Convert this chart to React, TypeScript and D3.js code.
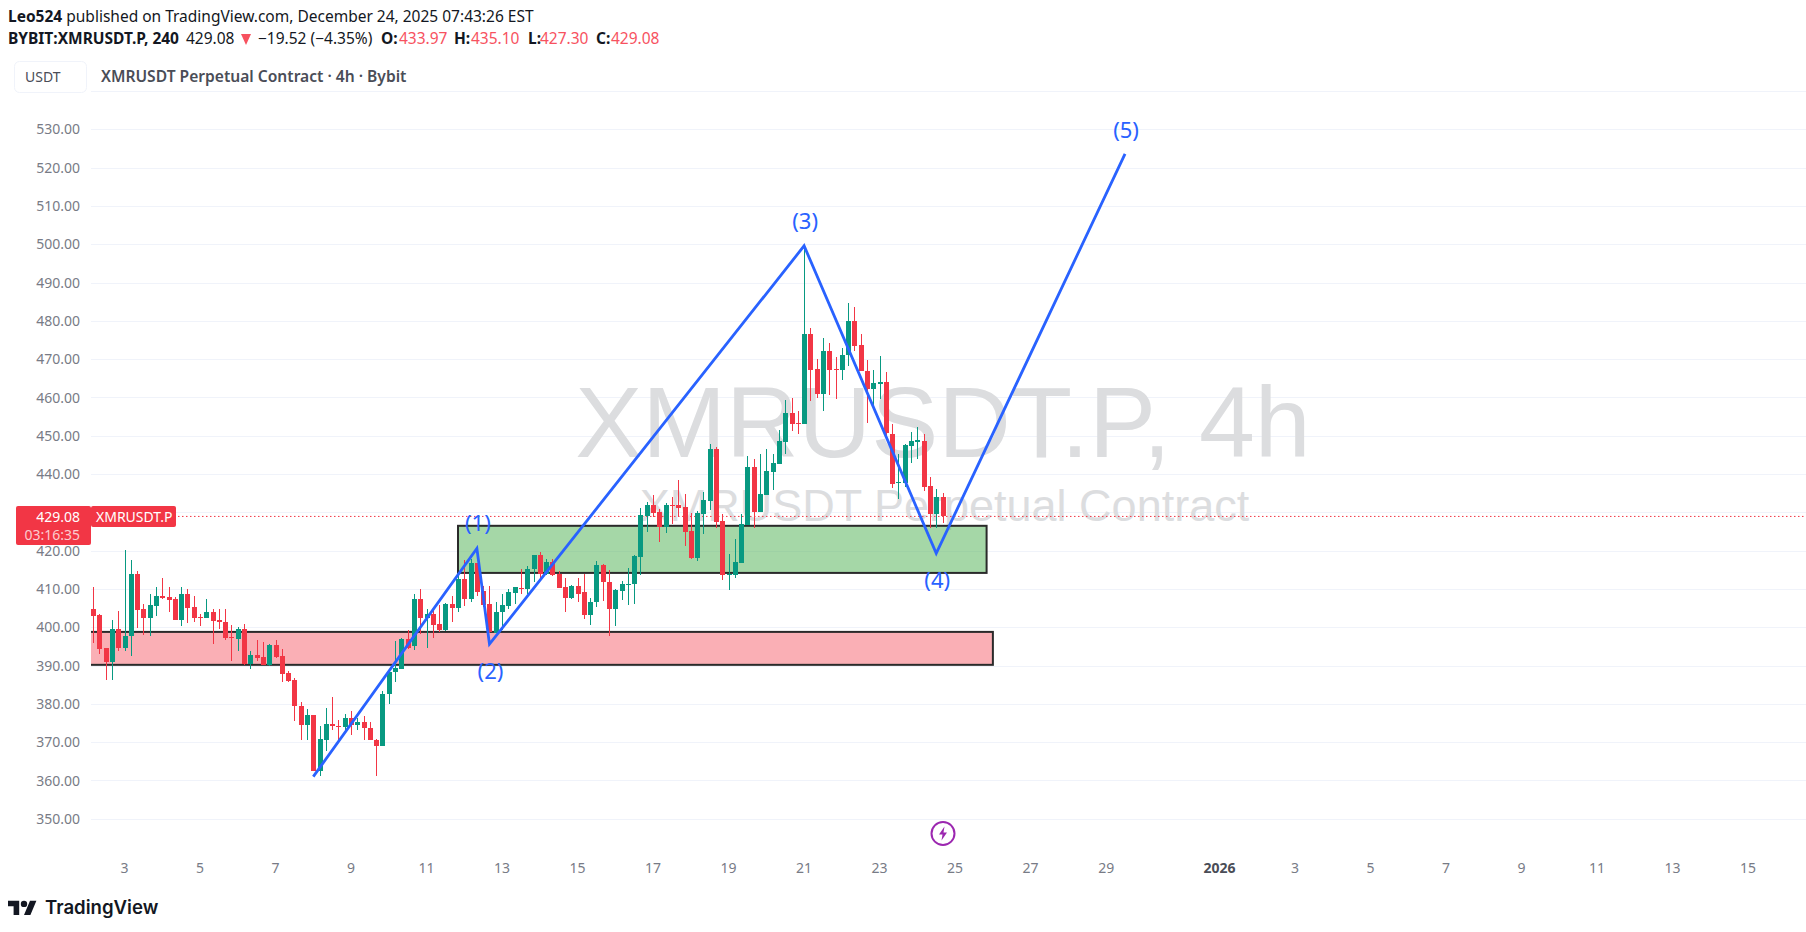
import React from "react";
import * as d3 from "d3";

const WIDTH = 1806;
const HEIGHT = 932;

const opens = [404.9,403.1,394.5,391,399.5,394.7,397.6,414,404.7,402.5,405.6,408.3,407.8,407.3,402,408.8,405.2,402.8,402.5,403.9,401.8,401.5,397.5,397,399.5,390.4,392.7,392.2,390.2,395.3,392.4,388,386.2,379.4,374.4,377.1,362.6,370.7,374.8,374.3,373.9,376.3,374.4,375.3,373.8,370.6,369,382.5,388.2,389.2,396.9,395,407.5,402.5,403.4,400.8,399.3,406.2,405.1,412.5,407.4,416.9,409.4,406,398.6,404,405.5,409,410.3,410,415.2,418.8,413.8,417.1,413.8,410.4,407.6,410.7,409.2,403.2,406.5,416.2,411.9,404.7,409.4,411.1,411.4,418.4,429.06,431.85,430.1,426.3,431.85,431.85,431.3,425.2,418.2,429.7,433.1,446.5,427.7,413.7,413.7,416.9,426.7,441.8,430.2,434.6,440.6,442.6,448.5,456,453.3,453,476.6,467.5,460.9,472.2,467.5,467.2,471.1,480,473.6,466.9,462.2,463.6,464.1,450.5,437.6,437.6,447.4,448.5,448.7,436.9,429.6,433.97];
const highs = [410.4,403.6,394.7,401.9,404.2,420.3,417.7,414.6,406.2,408.8,410.4,413,410.4,408,410.6,409.9,408.3,403.6,407.3,404.9,404.9,404.7,400.5,400,400.8,393.7,396.7,396.1,395.6,396.6,394.3,388.5,386.7,380.5,378.7,377.2,374.1,378.9,381.8,375.9,377.4,378.1,376.4,376.8,375.3,370.9,383.4,388.6,396.4,397.2,399.3,408.6,409.9,404.9,404.5,405.8,406.4,408.1,413.8,417.7,417.9,416.9,410.7,410.7,406.7,408.6,410.1,410.6,415.2,415.9,418.8,419.6,417.8,417.9,414.7,413,411,413,413.8,407.6,417.2,416.6,414.9,410.1,412,415.4,419,431.1,432.6,434.5,430.8,432.4,433.9,438.5,434.8,429.8,430.3,435.2,447.8,447,429.5,419.1,423,429.5,444.6,443.9,445.2,446.5,445.3,451.5,459.4,459.9,456.5,499.6,478.1,470,475.5,474.2,470.6,472.8,484.6,483.6,476.6,469.8,467.2,470.9,466.6,453.1,445.3,447.9,451,452.3,450.5,439.3,436.1,435.1];
const lows = [395.8,393.1,386.3,386.3,393.9,393.7,392.4,399.9,398.1,397.8,403,407.3,404.1,402,400.3,401.2,401.5,400.3,402.3,395.7,399.6,396.8,391.1,393.7,390.2,389.2,391.3,390.2,389.8,392.1,385.6,385.8,375.5,370.7,370.7,362.4,361.2,367.8,373.1,369.8,372.4,372,373.3,370.7,370.5,361.2,369,379.9,385.8,389.2,394.4,394.1,398.2,394.7,397.3,398.9,399.1,401.5,404,405.5,406.7,408.1,405.4,398.6,398.4,399.3,404.9,406.2,408.8,408.8,411.9,412.7,413.6,413.3,410.2,404.1,407.3,406.6,402.2,400.6,405.4,406.8,397.6,400.3,407.1,405.8,406,413.7,425,428.7,422.4,424.7,427,428.9,421.1,417.8,417.4,424.4,430.5,426,412.4,409.7,413,416.7,426.6,426,430.2,434.5,435.9,442.6,445.3,451.3,450.5,453,459.2,460,456.5,460.7,459.6,464.6,468.1,472.2,466.8,453.4,457.8,459.6,450.2,436.5,433.4,436.7,442.8,444,435.7,425.8,425.8,427.3];
const closes = [403,394.3,391,399.5,394.7,397.7,414,404.6,402.5,405.7,408.3,407.6,407.2,402,408.8,405.1,402.5,402.5,403.9,401.7,401.4,397.3,397.3,399.5,390.4,392.7,392.1,390.2,395.4,392.3,387.9,386.1,379.4,374.4,377.1,362.6,370.9,374.8,374.2,374.2,376.3,374.4,375.3,373.6,370.5,369,382.7,388.2,389.3,397,394.5,407.5,402.5,403.4,400.6,399.3,406.2,405.1,412.5,407.4,416.9,409.3,405.9,398.9,404.1,405.7,409.1,410.4,410.1,415.3,418.8,413.8,417.1,413.6,410.2,407.6,410.7,408.8,403.2,406.6,416.2,411.8,404.7,409.7,411.2,411.4,418.7,429.3,431.85,429.9,426.3,431.85,431.7,431.2,425,418.2,429.8,433.2,446.5,427.6,413.7,413.9,417,427,441.8,430.2,434.8,440.8,442.9,448.6,456,453.1,453,476.6,467.2,460.9,472.2,467.2,467.2,471.1,480,473.5,466.8,462.2,463.8,464.1,450.7,437.4,437.9,447.6,448.7,448.8,436.7,429.6,434,429.08];

const priceTicks = [350,360,370,380,390,400,410,420,430,440,450,460,470,480,490,500,510,520,530];
const hiddenPriceLabels = [430];
const dateTicks = ["2025-12-03","2025-12-05","2025-12-07","2025-12-09","2025-12-11","2025-12-13","2025-12-15","2025-12-17","2025-12-19","2025-12-21","2025-12-23","2025-12-25","2025-12-27","2025-12-29","2026-01-01","2026-01-03","2026-01-05","2026-01-07","2026-01-09","2026-01-11","2026-01-13","2026-01-15"];

const waveIndex = [35,61,63,113,134,164];
const wavePrice = [361,420.6,395.6,499.6,419.3,523.6];
const waveLabels = ["(1)","(2)","(3)","(4)","(5)"];
const waveLabelOffset = [-25,27,-25,27,-24];

const firstCandle = Date.UTC(2025,11,2,4);
const FOUR_H = 4*3600*1000;

const x = d3.scaleUtc().domain([new Date("2025-12-03"), new Date("2026-01-15")]).range([124.5, 1748]);
const xi = (i: number) => x(new Date(firstCandle + i*FOUR_H));
const y = d3.scaleLinear().domain([350, 530]).range([818.8, 129.4]);

const GREEN = "#089981";
const RED = "#f23645";
const BLUE = "#2962ff";
const AXIS = "#787b86";
const FONT = "'Noto Sans', sans-serif";

function Zone({from,to,top,bottom,fill}:{from:number,to:number,top:number,bottom:number,fill:string}){
  return <rect x={xi(from)} y={y(top)} width={xi(to)-xi(from)} height={y(bottom)-y(top)} fill={fill} stroke="#2a2a2a" strokeWidth={2}/>;
}

export default function App(){
  const wave = d3.line<number>().x(i=>xi(waveIndex[i])).y(i=>y(wavePrice[i]))(d3.range(waveIndex.length))!;
  const last = closes[closes.length-1];
  const lastY = y(last);
  return (
    <svg width={WIDTH} height={HEIGHT} style={{position:"fixed",left:0,top:0,background:"#fff"}} fontFamily={FONT}>
      <defs><clipPath id="plot"><rect x={91} y={92} width={WIDTH-91} height={760}/></clipPath></defs>

      <text x={8} y={22} fontSize={15.5} fill="#131722"><tspan fontWeight={700}>Leo524</tspan> published on TradingView.com, December 24, 2025 07:43:26 EST</text>
      <g fontSize={15.5} fill="#131722">
        <text x={8} y={44} fontWeight={700}>BYBIT:XMRUSDT.P, 240</text>
        <text x={186} y={44}>429.08</text>
        <path d="M241 34h10l-5 11z" fill="#f7525f"/>
        <text x={258} y={44}>−19.52 (−4.35%)</text>
        <text x={381} y={44} fontWeight={700}>O:</text><text x={399} y={44} fill="#f7525f">433.97</text>
        <text x={454} y={44} fontWeight={700}>H:</text><text x={471} y={44} fill="#f7525f">435.10</text>
        <text x={528} y={44} fontWeight={700}>L:</text><text x={540} y={44} fill="#f7525f">427.30</text>
        <text x={596} y={44} fontWeight={700}>C:</text><text x={611} y={44} fill="#f7525f">429.08</text>
      </g>

      <rect x={14.5} y={61.5} width={72} height={31} rx={5} fill="#fff" stroke="#f0f3fa"/>
      <text x={25} y={82} fontSize={14} fill="#4a4d57">USDT</text>
      <text x={101} y={82} fontSize={15.6} fontWeight={600} fill="#4a4d57">XMRUSDT Perpetual Contract · 4h · Bybit</text>
      <line x1={91} x2={WIDTH} y1={91.5} y2={91.5} stroke="#f0f3fa"/>

      {priceTicks.map(p=>(
        <g key={p}>
          <line x1={91} x2={WIDTH} y1={Math.round(y(p))+.5} y2={Math.round(y(p))+.5} stroke="#f0f3fa"/>
          {!hiddenPriceLabels.includes(p) && <text x={80} y={y(p)+5} textAnchor="end" fontSize={14} fill={AXIS}>{p.toFixed(2)}</text>}
        </g>
      ))}

      <text x={943} y={457} textAnchor="middle" fontFamily="'Liberation Sans', sans-serif" fontSize={100.5} fill="#dcdddf">XMRUSDT.P, 4h</text>
      <text x={944.5} y={521} textAnchor="middle" fontFamily="'Liberation Sans', sans-serif" fontSize={45} fill="#dcdddf">XMRUSDT Perpetual Contract</text>

      <g clipPath="url(#plot)">
        <Zone from={58} to={142} top={426.5} bottom={414.2} fill="rgba(76,175,80,0.5)"/>
        <Zone from={-5} to={143} top={398.8} bottom={390.2} fill="rgba(242,54,69,0.4)"/>
      </g>

      <line x1={178} x2={WIDTH} y1={lastY+.5} y2={lastY+.5} stroke={RED} strokeDasharray="1.5 2.5"/>

      <g shapeRendering="crispEdges">
        {opens.map((o,i)=>{
          const c = closes[i];
          const col = c>=o ? GREEN : RED;
          const cx = Math.round(xi(i));
          const top = Math.round(y(Math.max(o,c)));
          const bot = Math.round(y(Math.min(o,c)));
          return (
            <g key={i} fill={col}>
              <rect x={cx} y={y(highs[i])} width={1} height={y(lows[i])-y(highs[i])}/>
              <rect x={cx-2} y={top} width={5} height={Math.max(1,bot-top)}/>
            </g>
          );
        })}
      </g>

      <path d={wave} fill="none" stroke={BLUE} strokeWidth={2.8} strokeLinejoin="miter"/>
      {waveLabels.map((t,k)=>(
        <text key={t} x={xi(waveIndex[k+1])+1} y={y(wavePrice[k+1])+waveLabelOffset[k]+8} textAnchor="middle" fontSize={22} fill={BLUE}>{t}</text>
      ))}

      <g>
        <rect x={16} y={506} width={75} height={39} rx={2} fill={RED}/>
        <rect x={91} y={506} width={85} height={21} rx={2} fill={RED}/>
        <text x={80} y={521.5} textAnchor="end" fontSize={14} fill="#fff">429.08</text>
        <text x={80} y={540} textAnchor="end" fontSize={14} fill="#fff" fillOpacity={.75}>03:16:35</text>
        <text x={96} y={521.5} fontSize={14} fill="#fff">XMRUSDT.P</text>
      </g>

      <g fontSize={14} textAnchor="middle">
        {dateTicks.map(d=>{
          const dt = new Date(d);
          const isYear = dt.getUTCMonth()===0 && dt.getUTCDate()===1;
          return <text key={d} x={x(dt)} y={873} fill={isYear?"#4a4d57":AXIS} fontWeight={isYear?700:400}>{isYear?dt.getUTCFullYear():dt.getUTCDate()}</text>;
        })}
      </g>

      <g transform="translate(943,833.5)">
        <circle r={11.5} fill="#fff" stroke="#9c27b0" strokeWidth={2}/>
        <path d="M1.5-7-4 1h3.5L-1.5 7 4-1H.5z" fill="#9c27b0"/>
      </g>

      <g transform="translate(8,897.5) scale(.8)" fill="#131722">
        <path d="M14 22H7V11H0V4h14v18zM28 22h-8l7.5-18h8L28 22z"/>
        <circle cx={20} cy={8} r={4}/>
      </g>
      <text x={45} y={914} fontFamily="Inter, sans-serif" fontSize={18.6} fontWeight={600} fill="#131722">TradingView</text>
    </svg>
  );
}
